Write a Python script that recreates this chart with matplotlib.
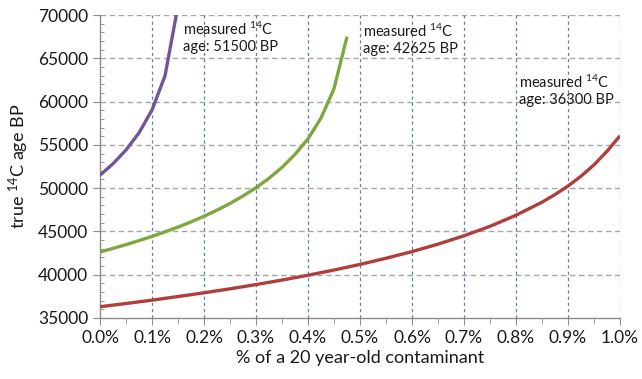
# True 14C age vs. fraction of a 20 year-old contaminant
import matplotlib.pyplot as plt
import numpy as np

plt.rcParams['font.family'] = ['Lato', 'DejaVu Sans']
plt.rcParams['mathtext.default'] = 'regular'

# contaminant percentage (x) and true ages (y) for each measured age
pct_purple = [0.0, 0.025, 0.05, 0.075, 0.1, 0.125, 0.15]
age_purple = [51500, 52820, 54410, 56390, 59030, 62980, 71080]

pct_green = [0.0, 0.025, 0.05, 0.075, 0.1, 0.125, 0.15, 0.175, 0.2, 0.225,
             0.25, 0.275, 0.3, 0.325, 0.35, 0.375, 0.4, 0.425, 0.45, 0.475]
age_green = [42625, 43040, 43470, 43940, 44420, 44950, 45500, 46100, 46750, 47460,
             48230, 49090, 50050, 51140, 52400, 53900, 55700, 58100, 61500, 67500]

pct_red = [0.0, 0.05, 0.1, 0.15, 0.2, 0.25, 0.3, 0.35, 0.4, 0.45, 0.5,
           0.55, 0.6, 0.65, 0.7, 0.75, 0.8, 0.85, 0.875, 0.9, 0.925, 0.95, 0.975, 1.0]
age_red = [36300, 36670, 37060, 37480, 37910, 38370, 38860, 39380, 39940, 40540, 41190,
           41900, 42670, 43530, 44500, 45590, 46870, 48380, 49260, 50250, 51380,
           52700, 54270, 56050]

labels = ['measured $^{14}$C\nage: 51500 BP',
          'measured $^{14}$C\nage: 42625 BP',
          'measured $^{14}$C\nage: 36300 BP']
label_pos = [(0.16, 67400), (0.506, 67200), (0.806, 61300)]

fig = plt.figure(figsize=(6.42, 3.79), dpi=100)
ax = fig.add_axes([0.1558, 0.161, 0.81, 0.7994])

ax.plot(pct_red, age_red, color='#b03f3c', lw=2.4, solid_capstyle='butt', zorder=3)
ax.plot(pct_green, age_green, color='#7ea73f', lw=2.4, solid_capstyle='butt', zorder=3)
ax.plot(pct_purple, age_purple, color='#70559c', lw=2.4, solid_capstyle='butt', zorder=3)

for txt, (x, y) in zip(labels, label_pos):
    ax.text(x, y, txt, fontsize=10.5, color='#1a1a1a', ha='left', va='center',
            linespacing=1.2, zorder=4)

ax.set_xlim(0, 1.0)
ax.set_ylim(35000, 70000)
ax.set_xticks(np.arange(0, 1.01, 0.1))
ax.set_xticklabels([f'{v:.1f}%' for v in np.arange(0, 1.01, 0.1)])
ax.set_xticks(np.arange(0.05, 1.0, 0.1), minor=True)
ax.set_yticks(np.arange(35000, 70001, 5000))
ax.set_yticks(np.arange(35000, 70001, 1000), minor=True)

# gridlines: gray dashed horizontals, blue dashed verticals
for yv in np.arange(40000, 70001, 5000):
    ax.axhline(yv, color='#a6a6a6', lw=1.0, dashes=(4, 2.5), zorder=1)
for xv in np.arange(0.1, 1.01, 0.1):
    ax.axvline(xv, color='#4f81bd', lw=0.9, dashes=(2.5, 2.5), zorder=1)

for s in ['top', 'right']:
    ax.spines[s].set_visible(False)
for s in ['left', 'bottom']:
    ax.spines[s].set_color('#8c8c8c')
    ax.spines[s].set_linewidth(1.0)

ax.tick_params(which='major', length=5, color='#8c8c8c', labelsize=12.5, labelcolor='#1a1a1a')
ax.tick_params(axis='y', which='minor', length=3, direction='in', color='#8c8c8c')
ax.tick_params(axis='x', which='minor', length=4, color='#8c8c8c')

ax.set_xlabel('% of a 20 year-old contaminant', fontsize=13, color='#1a1a1a', labelpad=3)
ax.set_ylabel('true $^{14}$C age BP', fontsize=13, color='#1a1a1a', labelpad=5)

fig.savefig('out.png', dpi=100)
